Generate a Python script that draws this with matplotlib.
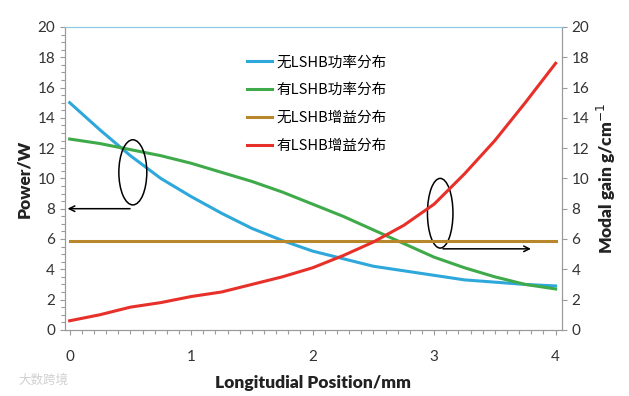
import numpy as np
import matplotlib
matplotlib.use("Agg")
import matplotlib.pyplot as plt
from matplotlib.patches import Ellipse
from matplotlib.ticker import MultipleLocator

# values
pos = [0.0, 0.25, 0.5, 0.75, 1.0, 1.25, 1.5, 1.75, 2.0, 2.25, 2.5, 2.75, 3.0, 3.25, 3.5, 3.75, 4.0]
p_no = [15.0, 13.2, 11.5, 10.0, 8.8, 7.7, 6.7, 5.9, 5.2, 4.7, 4.2, 3.9, 3.6, 3.3, 3.15, 3.0, 2.9]
p_yes = [12.6, 12.3, 11.9, 11.5, 11.0, 10.4, 9.8, 9.1, 8.3, 7.5, 6.6, 5.7, 4.8, 4.1, 3.5, 3.0, 2.7]
g_no = [5.9] * len(pos)
g_yes = [0.6, 1.0, 1.5, 1.8, 2.2, 2.5, 3.0, 3.5, 4.1, 4.9, 5.8, 6.9, 8.3, 10.3, 12.5, 15.0, 17.6]

labels = ["无LSHB功率分布", "有LSHB功率分布", "无LSHB增益分布", "有LSHB增益分布"]
colors = ["#2EA8DB", "#3FAA4A", "#B8862B", "#E8302A"]

plt.rcParams["font.family"] = ["Lato", "Noto Sans CJK SC", "DejaVu Sans"]

fig = plt.figure(figsize=(6.29, 3.96), dpi=100)
ax = fig.add_axes([0.103, 0.167, 0.79, 0.765])
ax2 = ax.twinx()

l1, = ax.plot(pos, p_no, color=colors[0], lw=2.2, label=labels[0])
l2, = ax.plot(pos, p_yes, color=colors[1], lw=2.2, label=labels[1])
l3, = ax2.plot(pos, g_no, color=colors[2], lw=2.2, label=labels[2])
l4, = ax2.plot(pos, g_yes, color=colors[3], lw=2.2, label=labels[3])

ax.set_xlim(-0.04, 4.05)
ax.set_ylim(0, 20)
ax2.set_ylim(0, 20)
ax.set_xticks([0, 1, 2, 3, 4])
ax.xaxis.set_minor_locator(MultipleLocator(0.1))
ax.yaxis.set_major_locator(MultipleLocator(2))
ax.yaxis.set_minor_locator(MultipleLocator(0.5))
ax2.yaxis.set_major_locator(MultipleLocator(2))

for a in (ax, ax2):
    for s in a.spines.values():
        s.set_color("#9a9a9a")
        s.set_linewidth(0.8)
    a.spines["top"].set_color("#8ec9e6")
    a.tick_params(colors="#9a9a9a", labelcolor="#333333", labelsize=11, width=0.8)
    a.tick_params(which="minor", colors="#9a9a9a", width=0.8, length=3)
ax.tick_params(axis="x", pad=11)

ax.set_ylabel("Power/W", fontsize=12.5, fontweight="heavy", color="#222222")
ax2.set_ylabel("Modal gain g/cm$^{-1}$", fontsize=12.5, fontweight="heavy", color="#222222")
ax.set_xlabel("Longitudial Position/mm", fontsize=12.5, fontweight="heavy", color="#222222",
              labelpad=8)

# annotation ellipses and arrows
ax.add_patch(Ellipse((0.52, 10.4), 0.23, 4.3, fill=False, ec="black", lw=1.1, zorder=5))
ax.annotate("", xy=(-0.04, 8.0), xytext=(0.52, 8.0),
            arrowprops=dict(arrowstyle="->", color="black", lw=1.1))
ax.add_patch(Ellipse((3.05, 7.7), 0.21, 4.6, fill=False, ec="black", lw=1.1, zorder=5))
ax.annotate("", xy=(3.82, 5.35), xytext=(3.05, 5.35),
            arrowprops=dict(arrowstyle="->", color="black", lw=1.1))

leg = ax.legend(handles=[l1, l2, l3, l4], loc="upper left", bbox_to_anchor=(0.34, 0.95),
                frameon=False, labelspacing=0.95, handlelength=1.7,
                handletextpad=0.3, prop={"family": ["Noto Sans CJK SC", "DejaVu Sans"], "size": 10.5})

fig.text(0.03, 0.03, "大数跨境", fontsize=9, color="#d0d0d0",
         family=["Noto Sans CJK SC", "DejaVu Sans"])

fig.savefig("out.png", dpi=100)
